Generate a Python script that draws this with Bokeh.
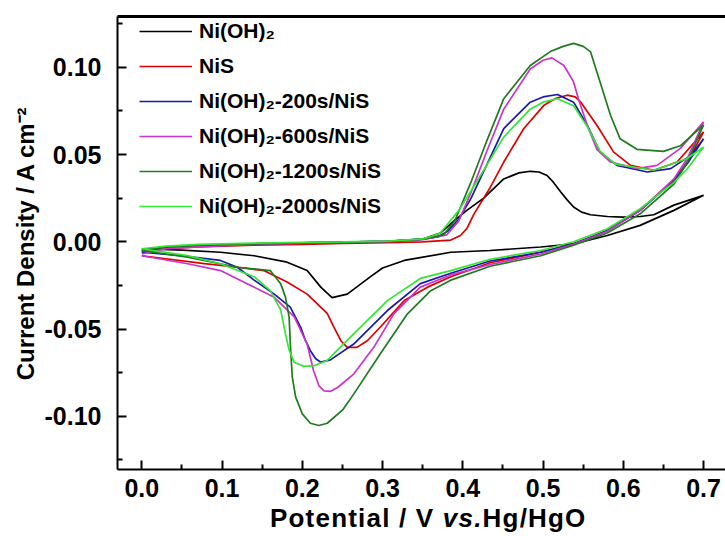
from bokeh.plotting import figure
from bokeh.models import (Range1d, FixedTicker, NumeralTickFormatter, LinearAxis,
                          Legend, LegendItem, Div)
from bokeh.layouts import column
from bokeh.embed import file_html
from bokeh.resources import INLINE

FONT = "Liberation Sans"

# ---------------- data ----------------
x_ticks = [0.0, 0.1, 0.2, 0.3, 0.4, 0.5, 0.6, 0.7]
x_minor = [0.05, 0.15, 0.25, 0.35, 0.45, 0.55, 0.65]
y_ticks = [-0.10, -0.05, 0.0, 0.05, 0.10]
y_minor = [-0.125, -0.075, -0.025, 0.025, 0.075, 0.125]

x_title_parts = ["Potential / V ", "vs.", "Hg/HgO"]
y_title = "Current Density / A cm\u207b\u00b2"

labels = ["Ni(OH)\u2082", "NiS", "Ni(OH)\u2082-200s/NiS", "Ni(OH)\u2082-600s/NiS",
          "Ni(OH)\u2082-1200s/NiS", "Ni(OH)\u2082-2000s/NiS"]
colors = ["#000000", "#dd0000", "#1a1aaa", "#cc33cc", "#1e7b1e", "#33e633"]

# Ni(OH)2
nioh_x = [0.0, 0.03, 0.07, 0.14, 0.2, 0.25, 0.306, 0.35, 0.372, 0.389, 0.405, 0.426, 0.451, 0.47,
          0.484, 0.495, 0.505, 0.513, 0.522, 0.53, 0.538, 0.548, 0.559, 0.58, 0.60, 0.621, 0.638,
          0.663, 0.70,
          0.663, 0.621, 0.58, 0.538, 0.497, 0.434, 0.385, 0.327, 0.30, 0.285, 0.256, 0.237,
          0.223, 0.206, 0.181, 0.14, 0.098, 0.05, 0.0]
nioh_y = [-0.005, -0.003, -0.002, -0.0012, -0.0006, -0.0002, 0.0002, 0.0015, 0.005, 0.012, 0.018,
          0.025, 0.036, 0.0395, 0.0404, 0.040, 0.038, 0.034, 0.0285, 0.024, 0.0199, 0.017,
          0.0155, 0.0145, 0.0141, 0.0145, 0.0155, 0.021, 0.0266,
          0.018, 0.0094, 0.0036, -0.0012, -0.003, -0.005, -0.006, -0.0107, -0.015, -0.020, -0.030,
          -0.032, -0.026, -0.0165, -0.0117, -0.008, -0.006, -0.0048, -0.004]

# NiS
nis_x = [0.0, 0.03, 0.07, 0.14, 0.2, 0.25, 0.306, 0.35, 0.385, 0.397, 0.405, 0.414, 0.434, 0.451,
         0.476, 0.501, 0.515, 0.53, 0.54, 0.547, 0.567, 0.588, 0.609, 0.638, 0.667, 0.70,
         0.68, 0.663, 0.64, 0.621, 0.60, 0.58, 0.56, 0.538, 0.497, 0.434, 0.385, 0.356, 0.327,
         0.297, 0.281, 0.268, 0.256, 0.248, 0.2395, 0.231, 0.206, 0.181, 0.152, 0.119, 0.078, 0.0]
nis_y = [-0.006, -0.004, -0.003, -0.002, -0.0015, -0.001, -0.0005, 0.0, 0.001, 0.0036, 0.0075,
         0.016, 0.031, 0.0457, 0.0649, 0.0782, 0.082, 0.084, 0.083, 0.080, 0.0668, 0.0514, 0.0438,
         0.041, 0.0457, 0.063,
         0.046, 0.035, 0.026, 0.018, 0.012, 0.0065, 0.0025, -0.0012, -0.006, -0.012, -0.020,
         -0.026, -0.0337, -0.049, -0.0567, -0.0605, -0.0605, -0.0567, -0.049, -0.041, -0.030,
         -0.023, -0.0165, -0.0146, -0.0125, -0.008]

# Ni(OH)2-200s/NiS
s200_x = [0.0, 0.03, 0.07, 0.14, 0.2, 0.25, 0.306, 0.35, 0.37, 0.381, 0.395, 0.41, 0.451, 0.484,
          0.50, 0.518, 0.538, 0.555, 0.571, 0.592, 0.63, 0.659, 0.684, 0.70,
          0.68, 0.663, 0.621, 0.58, 0.538, 0.497, 0.434, 0.385, 0.347, 0.306, 0.264, 0.235,
          0.223, 0.2167, 0.21, 0.204, 0.198, 0.185, 0.165, 0.14, 0.119, 0.098, 0.05, 0.0]
s200_y = [-0.005, -0.003, -0.002, -0.0012, -0.0006, -0.0002, 0.0002, 0.0015, 0.003, 0.006, 0.013,
          0.0247, 0.0649, 0.080, 0.083, 0.0844, 0.080, 0.0668, 0.0514, 0.0438, 0.040, 0.0419,
          0.0495, 0.059,
          0.045, 0.035, 0.018, 0.0065, -0.0012, -0.006, -0.011, -0.018, -0.024, -0.0394, -0.0586,
          -0.0677, -0.069, -0.067, -0.0624, -0.0567, -0.049, -0.0375, -0.030, -0.022, -0.0146,
          -0.0107, -0.008, -0.006]

# Ni(OH)2-600s/NiS
s600_x = [0.0, 0.03, 0.07, 0.14, 0.2, 0.25, 0.306, 0.35, 0.38, 0.395, 0.41, 0.43, 0.451, 0.484,
          0.50, 0.511, 0.526, 0.538, 0.544, 0.555, 0.567, 0.584, 0.617, 0.642, 0.671, 0.70,
          0.68, 0.663, 0.621, 0.58, 0.538, 0.497, 0.434, 0.385, 0.347, 0.314, 0.289, 0.264,
          0.244, 0.2354, 0.227, 0.2206, 0.214, 0.206, 0.19, 0.165, 0.14, 0.098, 0.057, 0.0]
s600_y = [-0.007, -0.004, -0.003, -0.0015, -0.0008, -0.0003, 0.0001, 0.0012, 0.004, 0.012, 0.028,
          0.052, 0.076, 0.099, 0.104, 0.1054, 0.101, 0.0916, 0.082, 0.0667, 0.053, 0.0457,
          0.0419, 0.0438, 0.0535, 0.0687,
          0.048, 0.036, 0.018, 0.006, -0.0015, -0.007, -0.013, -0.019, -0.026, -0.0413, -0.0605,
          -0.0758, -0.0835, -0.0857, -0.0854, -0.0824, -0.0739, -0.0586, -0.043, -0.0318,
          -0.026, -0.0165, -0.0126, -0.008]

# Ni(OH)2-1200s/NiS
s1200_x = [0.0, 0.03, 0.07, 0.14, 0.2, 0.25, 0.306, 0.35, 0.376, 0.39, 0.41, 0.43, 0.451, 0.484,
           0.509, 0.525, 0.538, 0.55, 0.559, 0.571, 0.584, 0.596, 0.617, 0.65, 0.671, 0.70,
           0.68, 0.663, 0.621, 0.58, 0.538, 0.497, 0.434, 0.385, 0.36, 0.331, 0.297, 0.264,
           0.25, 0.231, 0.2206, 0.21, 0.20, 0.1917, 0.1875, 0.1855, 0.1835, 0.179, 0.173, 0.16,
           0.119, 0.057, 0.0]
s1200_y = [-0.005, -0.003, -0.002, -0.0012, -0.0006, -0.0002, 0.0002, 0.0015, 0.004, 0.012,
           0.034, 0.058, 0.082, 0.101, 0.109, 0.112, 0.1137, 0.112, 0.109, 0.0916, 0.0725, 0.059,
           0.053, 0.0518, 0.055, 0.067,
           0.046, 0.033, 0.016, 0.005, -0.002, -0.008, -0.014, -0.022, -0.028, -0.0413, -0.0643,
           -0.0873, -0.0965, -0.104, -0.1053, -0.104, -0.0986, -0.089, -0.0776, -0.0623, -0.043,
           -0.0317, -0.024, -0.0165, -0.0146, -0.0088, -0.005]

# Ni(OH)2-2000s/NiS
s2000_x = [0.0, 0.03, 0.07, 0.14, 0.2, 0.25, 0.306, 0.35, 0.36, 0.372, 0.395, 0.418, 0.451,
           0.484, 0.50, 0.518, 0.538, 0.555, 0.571, 0.59, 0.638, 0.679, 0.70,
           0.68, 0.663, 0.621, 0.58, 0.538, 0.497, 0.434, 0.385, 0.347, 0.306, 0.264, 0.231,
           0.2146, 0.202, 0.1897, 0.1835, 0.179, 0.173, 0.16, 0.14, 0.098, 0.057, 0.0]
s2000_y = [-0.004, -0.0025, -0.0015, -0.0008, -0.0003, 0.0, 0.0004, 0.0017, 0.003, 0.005, 0.018,
           0.035, 0.060, 0.076, 0.080, 0.082, 0.078, 0.066, 0.052, 0.0445, 0.041, 0.0476, 0.0543,
           0.042, 0.034, 0.019, 0.0075, 0.0, -0.005, -0.010, -0.0165, -0.021, -0.0337, -0.0528,
           -0.068, -0.071, -0.0714, -0.069, -0.062, -0.0528, -0.039, -0.028, -0.020, -0.0126,
           -0.0079, -0.004]

series_x = [nioh_x, nis_x, s200_x, s600_x, s1200_x, s2000_x]
series_y = [nioh_y, nis_y, s200_y, s600_y, s1200_y, s2000_y]

# ---------------- figure ----------------
p = figure(width=725, height=507, output_backend="svg", toolbar_location=None,
           x_range=Range1d(-0.0303, 0.7273), y_range=Range1d(-0.1305, 0.1291),
           min_border_left=117, min_border_right=0, min_border_top=16, min_border_bottom=38)
p.xgrid.visible = False
p.ygrid.visible = False
p.outline_line_color = None
p.background_fill_color = "white"

items = []
for xs, ys, lab, col in zip(series_x, series_y, labels, colors):
    r = p.line(xs, ys, line_color=col, line_width=1.7)
    items.append(LegendItem(label=lab, renderers=[r]))

for ax in (p.xaxis[0], p.yaxis[0]):
    ax.axis_line_width = 2
    ax.major_tick_line_width = 2
    ax.minor_tick_line_width = 2
    ax.major_tick_in = 9
    ax.major_tick_out = 0
    ax.minor_tick_in = 5
    ax.minor_tick_out = 0
    ax.major_label_text_font = FONT
    ax.major_label_text_font_style = "bold"
    ax.major_label_text_font_size = "25px"
    ax.major_label_text_color = "black"

p.xaxis.ticker = FixedTicker(ticks=x_ticks, minor_ticks=x_minor)
p.xaxis.formatter = NumeralTickFormatter(format="0.0")
p.xaxis.major_label_standoff = 9

p.yaxis.ticker = FixedTicker(ticks=y_ticks, minor_ticks=y_minor)
p.yaxis.formatter = NumeralTickFormatter(format="0.00")
p.yaxis.major_label_standoff = 16
p.yaxis.axis_label = y_title
p.yaxis.axis_label_text_font = FONT
p.yaxis.axis_label_text_font_style = "bold"
p.yaxis.axis_label_text_font_size = "24px"
p.yaxis.axis_label_text_color = "black"
p.yaxis.axis_label_standoff = 3

top = LinearAxis(ticker=FixedTicker(ticks=[]), axis_line_width=3,
                 major_tick_line_color=None, minor_tick_line_color=None,
                 major_label_text_font_size="0px")
p.add_layout(top, "above")

legend = Legend(items=items, location=(22, 248), glyph_width=53, glyph_height=30,
                label_height=30, spacing=5, padding=0, margin=0, label_standoff=7,
                border_line_color=None, background_fill_alpha=0,
                label_text_font=FONT, label_text_font_style="bold",
                label_text_font_size="21px", label_text_color="black")
p.add_layout(legend)

# x-axis title (with italic "vs.") as real HTML text under the plot
xlabel_html = ('<div style="margin:0;padding:0 0 0 270px;'
               'font-family:\'Liberation Sans\',Arial,sans-serif;font-weight:bold;'
               'font-size:26px;line-height:22px;letter-spacing:1.2px;white-space:nowrap;'
               'color:#000;">'
               + x_title_parts[0] + '<i>' + x_title_parts[1] + '</i>' + x_title_parts[2]
               + '</div>')
xtitle = Div(text=xlabel_html, width=725, height=29, margin=0)

layout = column(p, xtitle, spacing=0)

open("out.html", "w").write(file_html(layout, INLINE))
